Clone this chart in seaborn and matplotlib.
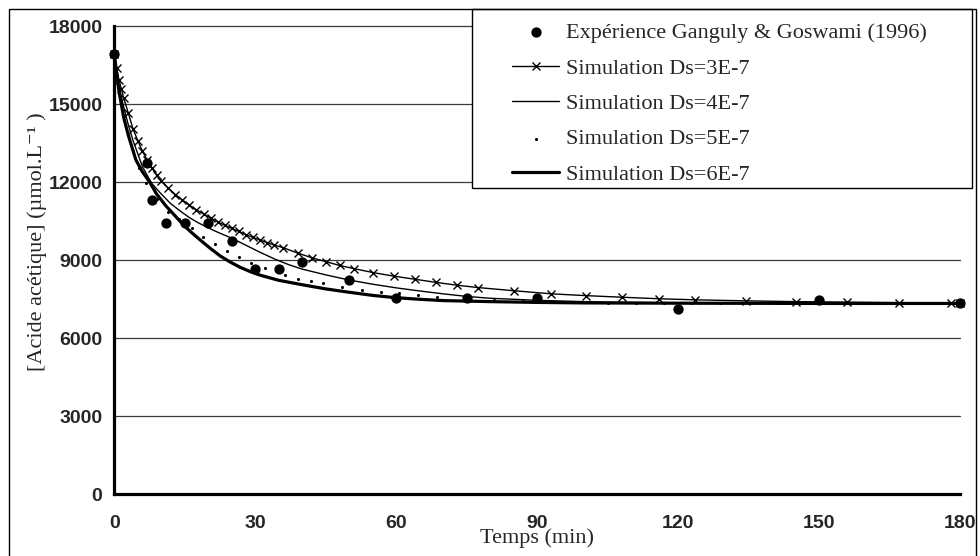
import matplotlib
matplotlib.use("Agg")
import matplotlib.pyplot as plt
import matplotlib.patches as mpatches
import seaborn as sns

sns.set_style("white")
plt.rcParams['font.family'] = ['Liberation Serif', 'DejaVu Serif']

# --- data ---
exp_t = [0, 7, 8, 11, 15, 20, 25, 30, 35, 40, 50, 60, 75, 90, 120, 150, 180]
exp_c = [16930, 12750, 11300, 10450, 10420, 10450, 9750, 8670, 8670, 8950,
         8240, 7560, 7560, 7560, 7140, 7470, 7370]

# Ds = 3E-7 (line with x markers)
sim3_t = [0, 0.5, 1, 1.5, 2, 3, 4, 5, 6, 7, 8, 9, 10, 11.5, 13, 14.5, 16, 17.5,
          19, 20.5, 22, 23.5, 25, 26.5, 28, 29.5, 31, 32.5, 34, 36, 39, 42, 45,
          48, 51, 55, 59.5, 64, 68.5, 73, 77.5, 85, 93, 100.5, 108, 116, 123.5,
          134.5, 145, 156, 167, 178, 180]
sim3_c = [16930, 16400, 15950, 15600, 15250, 14650, 14050, 13600, 13200, 12850,
          12550, 12280, 12060, 11780, 11530, 11320, 11120, 10940, 10780, 10630,
          10480, 10350, 10230, 10110, 9990, 9880, 9780, 9680, 9590, 9480, 9280,
          9100, 8950, 8800, 8680, 8530, 8390, 8270, 8150, 8040, 7950, 7830, 7710,
          7640, 7580, 7520, 7480, 7440, 7410, 7390, 7370, 7360, 7360]

# Ds = 4E-7 (thin line)
sim4_t = [0, 1, 2, 3, 4, 5, 6, 8, 10, 12, 14, 16, 18, 20, 22, 25, 28, 31, 34,
          37, 40, 45, 50, 55, 60, 65, 70, 75, 80, 90, 100, 110, 120, 135, 150,
          165, 180]
sim4_c = [16930, 15700, 14900, 14200, 13600, 13100, 12600, 11950, 11550, 11180,
          10900, 10640, 10430, 10250, 10080, 9850, 9580, 9310, 9060, 8840, 8660,
          8440, 8240, 8080, 7940, 7820, 7710, 7610, 7540, 7460, 7410, 7380, 7360,
          7350, 7345, 7340, 7340]

# Ds = 5E-7 (dots only)
sim5_t = [0, 0.5, 1, 1.5, 2, 3, 4, 5.3, 6.7, 9, 11.5, 13.8, 16.5, 18.9, 21.4,
          23.9, 26.5, 29, 32, 36.3, 39.2, 41.9, 44.5, 48.5, 52.7, 56.7, 60.7,
          64.7, 68.7, 74.7, 80.8, 87, 93, 99, 105, 111, 117, 123, 129, 135, 141,
          147, 153, 159, 165, 171, 177]
sim5_c = [16930, 16100, 15500, 15000, 14550, 13800, 13200, 12550, 11960, 11350,
          10850, 10580, 10230, 9900, 9630, 9370, 9130, 8890, 8700, 8440, 8290,
          8210, 8110, 7990, 7860, 7790, 7730, 7660, 7600, 7540, 7490, 7440, 7410,
          7390, 7370, 7360, 7355, 7350, 7350, 7345, 7345, 7340, 7340, 7340, 7340,
          7340, 7340]

# Ds = 6E-7 (thick line)
sim6_t = [0, 1, 2, 3, 4.6, 6, 7.6, 9, 11, 13, 14.7, 16.5, 18.3, 20.5, 22.6,
          24.7, 26.8, 29, 31, 35, 40, 45, 50, 55, 60, 65, 70, 80, 90, 100, 120,
          150, 180]
sim6_c = [16930, 15500, 14500, 13800, 12860, 12400, 11990, 11550, 11090, 10700,
          10360, 10060, 9780, 9450, 9160, 8930, 8730, 8560, 8430, 8230, 8060,
          7900, 7770, 7650, 7560, 7500, 7450, 7410, 7380, 7360, 7350, 7340, 7340]

labels = ['Expérience Ganguly & Goswami (1996)', 'Simulation Ds=3E-7',
          'Simulation Ds=4E-7', 'Simulation Ds=5E-7', 'Simulation Ds=6E-7']
y_ticks = [0, 3000, 6000, 9000, 12000, 15000, 18000]
x_ticks = [0, 30, 60, 90, 120, 150, 180]

fig = plt.figure(figsize=(9.8, 5.56), dpi=100)
ax = fig.add_axes([0.1166, 0.1110, 0.8630, 0.8417])

for yv in y_ticks[1:]:
    ax.axhline(yv, color='#3a3a3a', lw=0.9, zorder=0)

sns.lineplot(x=sim3_t, y=sim3_c, ax=ax, color='black', lw=1.0, marker='x',
             markersize=6, markeredgewidth=1.0, markeredgecolor='black',
             label=labels[1])
sns.lineplot(x=sim4_t, y=sim4_c, ax=ax, color='black', lw=1.0, label=labels[2])
sns.scatterplot(x=sim5_t, y=sim5_c, ax=ax, color='black', s=5, linewidth=0,
                label=labels[3])
sns.lineplot(x=sim6_t, y=sim6_c, ax=ax, color='black', lw=2.3, label=labels[4])
sns.scatterplot(x=exp_t, y=exp_c, ax=ax, color='black', s=55, linewidth=0,
                label=labels[0], zorder=5)

for art in ax.lines + ax.collections:
    art.set_clip_on(False)

handles, labs = ax.get_legend_handles_labels()
if ax.get_legend() is not None:
    ax.get_legend().remove()
order = [labs.index(l) for l in labels]

ax.set_xlim(0, 180)
ax.set_ylim(0, 18000)
ax.set_xticks(x_ticks)
ax.set_yticks(y_ticks)
for lab in ax.get_xticklabels() + ax.get_yticklabels():
    lab.set_family(['Liberation Sans', 'DejaVu Sans'])
    lab.set_fontweight('bold')
    lab.set_fontsize(14)
ax.tick_params(axis='y', direction='inout', length=11, width=1.6, pad=3)
ax.tick_params(axis='x', direction='inout', length=9.5, width=1.6, pad=10)

for side in ['top', 'right']:
    ax.spines[side].set_visible(False)
for side in ['left', 'bottom']:
    ax.spines[side].set_linewidth(2.3)
    ax.spines[side].set_color('black')

ax.set_xlabel('Temps (min)', fontsize=16)
ax.xaxis.set_label_coords(0.5, -0.072)
ax.set_ylabel('[Acide acétique] (µmol.L⁻¹ )', fontsize=16, va='center')
ax.yaxis.set_label_coords(-0.0914, 0.539)

# legend box and outer frame
fig.patches.append(mpatches.Rectangle((471.7 / 980, 1 - 188.3 / 556),
                                      500 / 980, 179 / 556,
                                      transform=fig.transFigure, facecolor='white',
                                      edgecolor='black', lw=1.0, zorder=4))
fig.patches.append(mpatches.Rectangle((9 / 980, -0.02), 967 / 980, 1.02 - 9.3 / 556,
                                      transform=fig.transFigure, fill=False,
                                      edgecolor='black', lw=1.0, zorder=4))

fig.legend([handles[i] for i in order], [labs[i] for i in order],
           loc='upper left', bbox_to_anchor=(511.7 / 980, 1 - 22.5 / 556),
           frameon=False, fontsize=16, borderpad=0, borderaxespad=0,
           labelspacing=0.67, handlelength=2.15, handletextpad=0.3)

fig.savefig('out.png', dpi=100)
